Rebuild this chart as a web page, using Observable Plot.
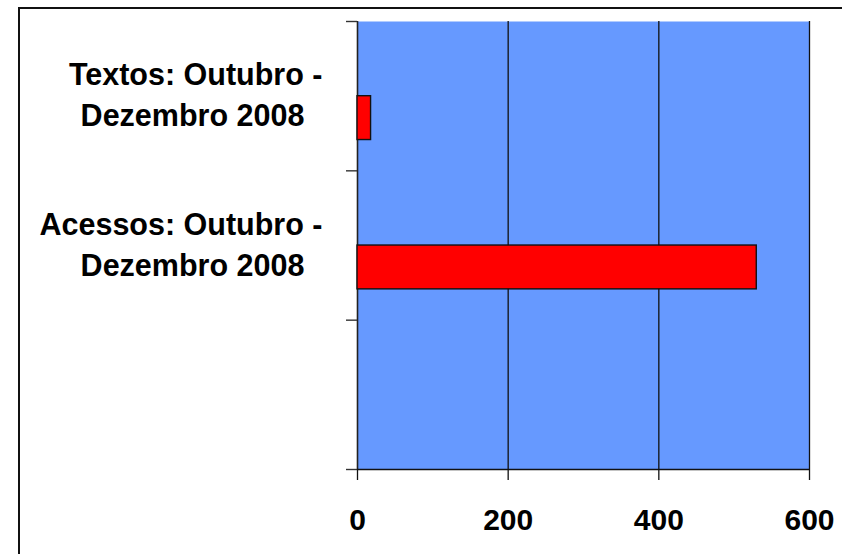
<!DOCTYPE html>
<html>
<head>
<meta charset="utf-8">
<script src="https://cdn.jsdelivr.net/npm/d3@7"></script>
<script src="https://cdn.jsdelivr.net/npm/@observablehq/plot@0.6"></script>
<style>
  html, body { margin: 0; padding: 0; background: #fff; }
  #wrap { position: relative; width: 842px; height: 554px; overflow: hidden; }
  #border { position: absolute; left: 18px; top: 7px; width: 900px; height: 600px;
            border-left: 2px solid #111; border-top: 2px solid #111; }
  #chart { position: absolute; left: 0; top: 0; }
</style>
</head>
<body>
<div id="wrap"><div id="border"></div><div id="chart"></div></div>
<script>
// Data
const labelLine1 = ["Textos: Outubro -", "Acessos: Outubro -", ""];
const labelLine2 = ["Dezembro 2008", "Dezembro 2008", ""];
const values = [18, 530, null];
const xTicks = [0, 200, 400, 600];

const rows = labelLine1.map((c, i) => ({ line1: c, line2: labelLine2[i], value: values[i], i }));
const bars = rows.filter(d => d.value != null);
const labelled = rows.filter(d => d.line1);
const boundaries = d3.range(rows.length + 1);

const chart = Plot.plot({
  width: 842,
  height: 554,
  marginLeft: 357,
  marginRight: 33,
  marginTop: 21,
  marginBottom: 85,
  style: { fontFamily: "'Liberation Sans', Arial, sans-serif", background: "transparent", color: "#000" },
  x: { domain: [0, 600], axis: null },
  y: { domain: [0, rows.length], reverse: true, axis: null },
  marks: [
    Plot.frame({ fill: "#6699FF", stroke: null }),
    Plot.ruleX(xTicks.filter(t => t > 0), { stroke: "#111", strokeWidth: 1.3 }),
    Plot.ruleX([0], { stroke: "#222", strokeWidth: 1.6 }),
    Plot.ruleY([rows.length], { stroke: "#111", strokeWidth: 1.3 }),
    Plot.rect(bars, {
      x1: 0, x2: "value",
      y1: d => d.i, y2: d => d.i + 1,
      insetTop: 74.7, insetBottom: 30.8,
      fill: "#FF0000", stroke: "#111", strokeWidth: 1.4
    }),
    Plot.axisY(boundaries, { tickSize: 11, tickFormat: () => "", stroke: "#333", strokeWidth: 1.4, label: null }),
    Plot.axisX(xTicks, { tickSize: 11, tickPadding: 28, fontSize: 30, fontWeight: "bold", stroke: "#111", strokeWidth: 1.3, label: null }),
    Plot.text(labelled, {
      y: d => d.i + 0.5,
      text: "line1",
      frameAnchor: "left",
      dx: -35,
      dy: -20.5,
      textAnchor: "end",
      lineAnchor: "middle",
      fontSize: 30.5,
      fontWeight: "bold",
      fill: "#000"
    }),
    Plot.text(labelled, {
      y: d => d.i + 0.5,
      text: "line2",
      frameAnchor: "left",
      dx: -165,
      dy: 20.5,
      textAnchor: "middle",
      lineAnchor: "middle",
      fontSize: 30.5,
      fontWeight: "bold",
      fill: "#000"
    })
  ]
});
document.getElementById("chart").appendChild(chart);
</script>
</body>
</html>
